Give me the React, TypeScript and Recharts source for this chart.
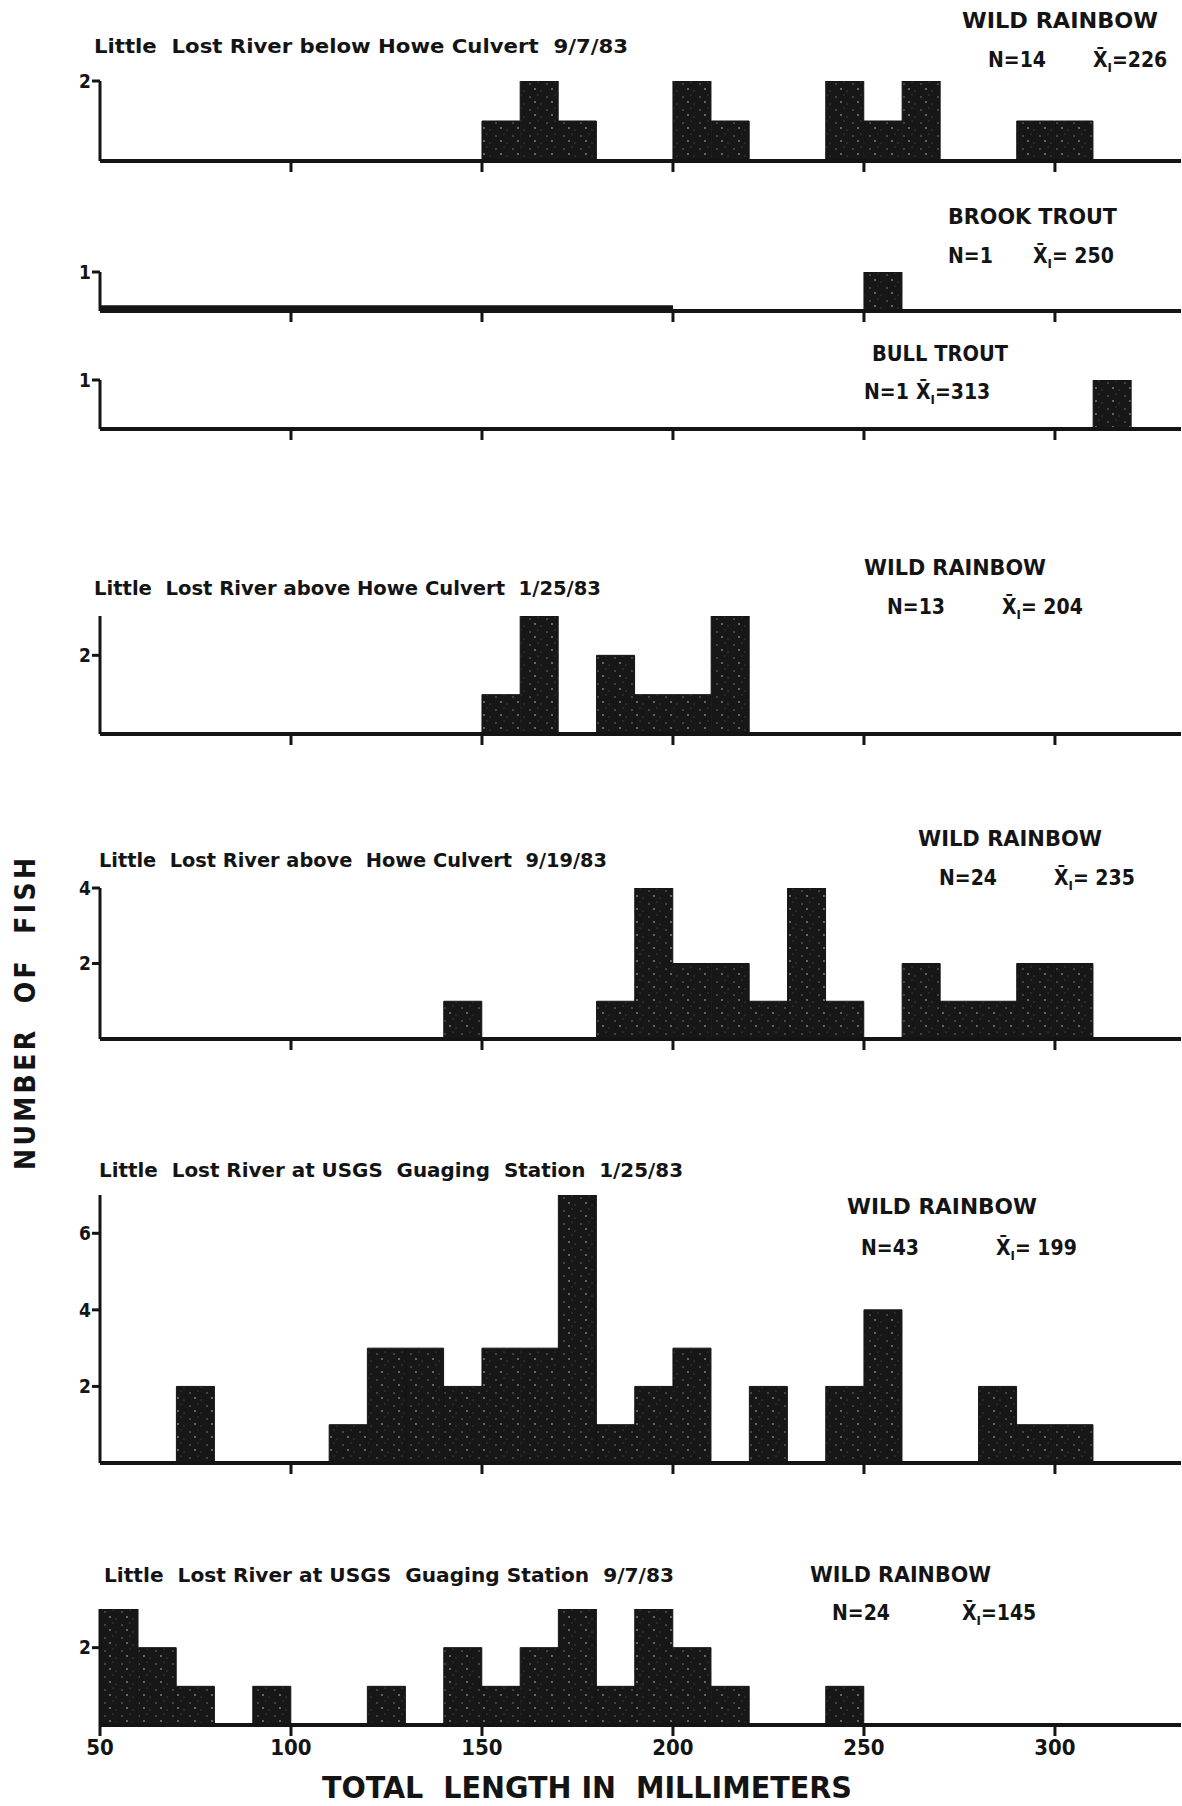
import React from "react"
import { BarChart, Bar, XAxis, YAxis, ReferenceArea } from "recharts"

// 10 mm length classes, lower edge of each class
const binStarts = [50, 60, 70, 80, 90, 100, 110, 120, 130, 140, 150, 160, 170, 180, 190, 200, 210, 220, 230, 240, 250, 260, 270, 280, 290, 300, 310, 320]

// number of fish per length class
const belowHoweSep = [0, 0, 0, 0, 0, 0, 0, 0, 0, 0, 1, 2, 1, 0, 0, 2, 1, 0, 0, 2, 1, 2, 0, 0, 1, 1, 0, 0]
const brookTrout = [0, 0, 0, 0, 0, 0, 0, 0, 0, 0, 0, 0, 0, 0, 0, 0, 0, 0, 0, 0, 1, 0, 0, 0, 0, 0, 0, 0]
const bullTrout = [0, 0, 0, 0, 0, 0, 0, 0, 0, 0, 0, 0, 0, 0, 0, 0, 0, 0, 0, 0, 0, 0, 0, 0, 0, 0, 1, 0]
const aboveHoweJan = [0, 0, 0, 0, 0, 0, 0, 0, 0, 0, 1, 3, 0, 2, 1, 1, 3, 0, 0, 0, 0, 0, 0, 0, 0, 0, 0, 0]
const aboveHoweSep = [0, 0, 0, 0, 0, 0, 0, 0, 0, 1, 0, 0, 0, 1, 4, 2, 2, 1, 4, 1, 0, 2, 1, 1, 2, 2, 0, 0]
const usgsJan = [0, 0, 2, 0, 0, 0, 1, 3, 3, 2, 3, 3, 7, 1, 2, 3, 0, 2, 0, 2, 4, 0, 0, 2, 1, 1, 0, 0]
const usgsSep = [3, 2, 1, 0, 1, 0, 0, 1, 0, 2, 1, 2, 3, 1, 3, 2, 1, 0, 0, 1, 0, 0, 0, 0, 0, 0, 0, 0]

const lengthTicks = [100, 150, 200, 250, 300]
const bottomTicks = [50, 100, 150, 200, 250, 300]

const FONT = "'DejaVu Sans Condensed', 'Liberation Sans Narrow', 'DejaVu Sans', sans-serif"
const INK = "#141414"

interface HistogramProps {
  id: string
  counts: number[]
  yMax: number
  yTicks: number[]
  top: number
  baseline: number
  showLabels?: boolean
  smudge?: boolean
}

// keeps the tick mark but draws no label
const NoLabel = () => <g />

function Histogram({ id, counts, yMax, yTicks, top, baseline, showLabels, smudge }: HistogramProps) {
  const data = binStarts.map((start, i) => ({ mid: start + 5, count: counts[i] }))
  const marginTop = 14
  const axisH = showLabels ? 46 : 22
  const height = marginTop + (baseline - top) + axisH

  return (
    <div style={{ position: "absolute", left: 0, top: top - marginTop }}>
      <BarChart
        width={1182}
        height={height}
        data={data}
        margin={{ top: marginTop, right: 1, bottom: 0, left: 70 }}
        barCategoryGap={0}
        barGap={0}
      >
        <defs>
          <pattern id={`grain-${id}`} width="17" height="13" patternUnits="userSpaceOnUse">
            <rect width="17" height="13" fill="#171717" />
            <circle cx="3" cy="4" r="0.8" fill="#7a7a7a" />
            <circle cx="11" cy="2" r="0.6" fill="#5e5e5e" />
            <circle cx="8" cy="9" r="0.9" fill="#8a8a8a" />
            <circle cx="14" cy="11" r="0.6" fill="#6a6a6a" />
          </pattern>
        </defs>
        <XAxis
          type="number"
          dataKey="mid"
          domain={[50, 333]}
          allowDataOverflow
          ticks={showLabels ? bottomTicks : lengthTicks}
          interval={0}
          height={axisH}
          tickSize={11}
          tickMargin={3}
          axisLine={{ stroke: INK, strokeWidth: 4 }}
          tickLine={{ stroke: INK, strokeWidth: 3 }}
          tick={showLabels ? { fill: INK, fontSize: 22, fontWeight: 700, fontFamily: FONT } : NoLabel}
        />
        <YAxis
          type="number"
          domain={[0, yMax]}
          allowDataOverflow
          ticks={yTicks}
          interval={0}
          width={30}
          tickSize={8}
          tickMargin={1}
          axisLine={{ stroke: INK, strokeWidth: 3 }}
          tickLine={{ stroke: INK, strokeWidth: 3 }}
          tick={{ fill: INK, fontSize: 19, fontWeight: 700, fontFamily: FONT }}
        />
        {smudge && (
          <ReferenceArea x1={50} x2={200} y1={0} y2={0.15} fill={INK} fillOpacity={1} stroke="none" />
        )}
        <Bar dataKey="count" fill={`url(#grain-${id})`} stroke={INK} strokeWidth={1} isAnimationActive={false} />
      </BarChart>
    </div>
  )
}

const titleStyle = { fontFamily: FONT, fontWeight: 600, fill: INK, whiteSpace: "pre" as const }
const labelStyle = { fontFamily: FONT, fontWeight: 700, fill: INK, whiteSpace: "pre" as const }

function Mean({ x, y, value }: { x: number; y: number; value: string }) {
  return (
    <text x={x} y={y} dominantBaseline="central" fontSize={21} style={labelStyle}>
      {"X\u0304"}
      <tspan fontSize={13} dy={7}>I</tspan>
      <tspan dy={-7}>{value}</tspan>
    </text>
  )
}

export default function App() {
  return (
    <div style={{ position: "absolute", left: 0, top: 0, width: 1182, height: 1806, background: "#fff" }}>
      <Histogram id="p1" counts={belowHoweSep} yMax={2} yTicks={[2]} top={81} baseline={161} />
      <Histogram id="p2" counts={brookTrout} yMax={1} yTicks={[1]} top={272} baseline={311} smudge />
      <Histogram id="p3" counts={bullTrout} yMax={1} yTicks={[1]} top={380} baseline={429} />
      <Histogram id="p4" counts={aboveHoweJan} yMax={3} yTicks={[2]} top={616} baseline={734} />
      <Histogram id="p5" counts={aboveHoweSep} yMax={4} yTicks={[2, 4]} top={888} baseline={1039} />
      <Histogram id="p6" counts={usgsJan} yMax={7} yTicks={[2, 4, 6]} top={1195} baseline={1463} />
      <Histogram id="p7" counts={usgsSep} yMax={3} yTicks={[2]} top={1609} baseline={1725} showLabels />

      <svg width={1182} height={1806} style={{ position: "absolute", left: 0, top: 0, pointerEvents: "none" }}>
        {/* station titles */}
        <text x={94} y={46} dominantBaseline="central" fontSize={20} textLength={534} lengthAdjust="spacingAndGlyphs" style={titleStyle}>
          Little  Lost River below Howe Culvert  9/7/83
        </text>
        <text x={94} y={588} dominantBaseline="central" fontSize={20} textLength={507} lengthAdjust="spacingAndGlyphs" style={titleStyle}>
          Little  Lost River above Howe Culvert  1/25/83
        </text>
        <text x={99} y={860} dominantBaseline="central" fontSize={20} textLength={508} lengthAdjust="spacingAndGlyphs" style={titleStyle}>
          Little  Lost River above  Howe Culvert  9/19/83
        </text>
        <text x={99} y={1170} dominantBaseline="central" fontSize={20} textLength={584} lengthAdjust="spacingAndGlyphs" style={titleStyle}>
          Little  Lost River at USGS  Guaging  Station  1/25/83
        </text>
        <text x={104} y={1575} dominantBaseline="central" fontSize={20} textLength={570} lengthAdjust="spacingAndGlyphs" style={titleStyle}>
          Little  Lost River at USGS  Guaging Station  9/7/83
        </text>

        {/* species, sample size and mean length */}
        <text x={962} y={21} dominantBaseline="central" fontSize={21} textLength={196} lengthAdjust="spacingAndGlyphs" style={labelStyle}>WILD RAINBOW</text>
        <text x={988} y={60} dominantBaseline="central" fontSize={21} style={labelStyle}>N=14</text>
        <Mean x={1093} y={60} value="=226" />

        <text x={948} y={217} dominantBaseline="central" fontSize={21} textLength={169} lengthAdjust="spacingAndGlyphs" style={labelStyle}>BROOK TROUT</text>
        <text x={948} y={256} dominantBaseline="central" fontSize={21} style={labelStyle}>N=1</text>
        <Mean x={1033} y={256} value="= 250" />

        <text x={872} y={354} dominantBaseline="central" fontSize={21} textLength={136} lengthAdjust="spacingAndGlyphs" style={labelStyle}>BULL TROUT</text>
        <text x={864} y={392} dominantBaseline="central" fontSize={21} style={labelStyle}>N=1</text>
        <Mean x={916} y={392} value="=313" />

        <text x={864} y={568} dominantBaseline="central" fontSize={21} textLength={182} lengthAdjust="spacingAndGlyphs" style={labelStyle}>WILD RAINBOW</text>
        <text x={887} y={607} dominantBaseline="central" fontSize={21} style={labelStyle}>N=13</text>
        <Mean x={1002} y={607} value="= 204" />

        <text x={918} y={839} dominantBaseline="central" fontSize={21} textLength={184} lengthAdjust="spacingAndGlyphs" style={labelStyle}>WILD RAINBOW</text>
        <text x={939} y={878} dominantBaseline="central" fontSize={21} style={labelStyle}>N=24</text>
        <Mean x={1054} y={878} value="= 235" />

        <text x={847} y={1207} dominantBaseline="central" fontSize={21} textLength={190} lengthAdjust="spacingAndGlyphs" style={labelStyle}>WILD RAINBOW</text>
        <text x={861} y={1248} dominantBaseline="central" fontSize={21} style={labelStyle}>N=43</text>
        <Mean x={996} y={1248} value="= 199" />

        <text x={810} y={1575} dominantBaseline="central" fontSize={21} textLength={181} lengthAdjust="spacingAndGlyphs" style={labelStyle}>WILD RAINBOW</text>
        <text x={832} y={1613} dominantBaseline="central" fontSize={21} style={labelStyle}>N=24</text>
        <Mean x={962} y={1613} value="=145" />

        {/* shared axis titles */}
        <text
          x={25}
          y={1014}
          textAnchor="middle"
          dominantBaseline="central"
          fontSize={28}
          textLength={312}
          lengthAdjust="spacing"
          transform="rotate(-90 25 1014)"
          style={labelStyle}
        >
          NUMBER  OF  FISH
        </text>
        <text x={587} y={1787} textAnchor="middle" dominantBaseline="central" fontSize={30} textLength={530} lengthAdjust="spacingAndGlyphs" style={labelStyle}>
          TOTAL  LENGTH IN  MILLIMETERS
        </text>
      </svg>
    </div>
  )
}
